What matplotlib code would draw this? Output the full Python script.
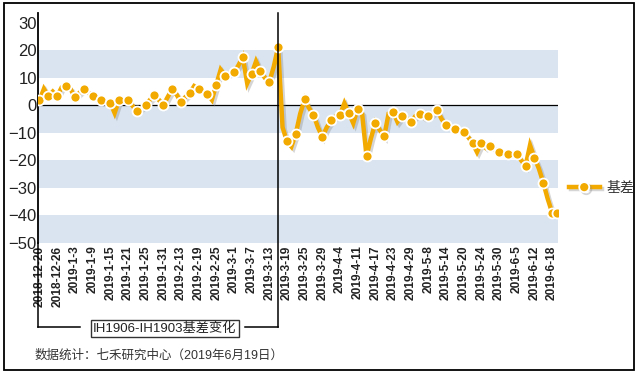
import numpy as np
import matplotlib.pyplot as plt
from matplotlib.lines import Line2D
from matplotlib.patches import Rectangle
import matplotlib.patheffects as pe

plt.rcParams['font.family'] = ['Liberation Sans', 'Noto Sans CJK SC', 'DejaVu Sans']

# daily basis IH1906-IH1903, 2018-12-20 .. 2019-6-19
basis = [1.8, 6, 3.3, 5, 3.3, 6.5, 7, 6, 3, 4.5,
         6, 4.8, 3.3, 2.8, 2, 1.5, 1, -2.8, 2, 2,
         2, 0, -2.2, -1, 0, 2, 3.6, 2, 0, 3,
         5.8, 4, 1.2, 3, 4.4, 7, 6, 5, 4.1, 2,
         7.5, 13, 10.8, 11.5, 12, 14.5, 17.6, 8, 11.5, 16,
         12.4, 10, 8.5, 14, 21.2, -8, -13.1, -15, -10.3, -3,
         2.2, -1, -3.4, -8, -11.5, -8, -5.5, -4, -3.4, 0.8,
         -2.8, -6.5, -1.2, -3, -18.5, -12, -6.3, -9, -11.3, -3,
         -2.4, -6, -3.8, -4.5, -6.2, -4, -3, -4.5, -4, -3,
         -1.8, -5, -7.2, -8, -8.7, -9, -9.6, -11.5, -13.8, -17,
         -13.6, -15.5, -14.9, -16, -16.8, -17.5, -17.8, -17.7, -17.6, -20,
         -22, -14.5, -19, -23, -28.1, -34, -39, -39]

tick_labels = ['2018-12-20', '2018-12-26', '2019-1-3', '2019-1-9', '2019-1-15',
               '2019-1-21', '2019-1-25', '2019-1-31', '2019-2-13', '2019-2-19',
               '2019-2-25', '2019-3-1', '2019-3-7', '2019-3-13', '2019-3-19',
               '2019-3-25', '2019-3-29', '2019-4-4', '2019-4-11', '2019-4-17',
               '2019-4-23', '2019-4-29', '2019-5-8', '2019-5-14', '2019-5-20',
               '2019-5-24', '2019-5-30', '2019-6-5', '2019-6-12', '2019-6-18']
tick_step = 4
expiry_idx = 54  # IH1903 expiry, 2019-3-15

x = np.arange(len(basis))
orange = '#F2A900'
band = '#D9E4F0'

fig = plt.figure(figsize=(6.39, 3.73), dpi=100)
W, H = 639, 373
ax = fig.add_axes([38.3 / W, 1 - 242.8 / H, (558.3 - 38.3) / W, (242.8 - 12.7) / H])

for lo in [10, -10, -30, -50]:
    ax.axhspan(lo, lo + 10, color=band, lw=0, zorder=0)
ax.axhline(0, color='black', lw=0.9, zorder=1)

shadow = [pe.SimpleLineShadow(offset=(1.5, -1.5), shadow_color='#888888', alpha=0.35), pe.Normal()]
ax.plot(x, basis, color=orange, lw=3.2, solid_joinstyle='miter', path_effects=shadow, zorder=3)
mark = list(range(0, len(basis), 2)) + [len(basis) - 1]
ax.plot(x[mark], np.array(basis)[mark], ls='none', marker='o', ms=7.2,
        mfc=orange, mec='white', mew=1.3, zorder=4)

ax.set_xlim(-0.27, 117.4)
ax.set_ylim(-50, 33.7)
ax.set_yticks(range(-50, 31, 10))
ax.set_xticks(x[::tick_step])
ax.set_xticklabels(tick_labels, rotation=90, fontsize=8.6, fontweight='bold', va='top')
ax.tick_params(length=0, pad=2, colors='#222222')
ax.tick_params(axis='y', labelsize=12, pad=1)
for s in ['top', 'right', 'bottom']:
    ax.spines[s].set_visible(False)
ax.spines['left'].set_linewidth(1.3)

# bracket under the axis
x_exp = 38.3 + (expiry_idx + 0.27) / (117.4 + 0.27) * (558.3 - 38.3)
yb = 326.7
for seg in [([38.3, 38.3], [242.8, yb]), ([38.3, 80], [yb, yb]),
            ([245, x_exp], [yb, yb]), ([x_exp, x_exp], [yb, 12.7])]:
    fig.add_artist(Line2D([p / W for p in seg[0]], [1 - p / H for p in seg[1]],
                          color='black', lw=1.1))
fig.add_artist(Rectangle((90.7 / W, 1 - 336.7 / H), (239.3 - 90.7) / W, 16.7 / H,
                         fill=False, ec='#333333', lw=1.0))
fig.text(165 / W, 1 - 328.5 / H, 'IH1906-IH1903基差变化', ha='center', va='center',
         fontsize=9.5, color='#222222')
fig.text(35 / W, 1 - 355.7 / H, '数据统计：七禾研究中心（2019年6月19日）', ha='left',
         va='center', fontsize=9, color='#333333')

# legend
h = Line2D([], [], color=orange, lw=3.2, marker='o', ms=7.2, mfc=orange, mec='white',
           mew=1.3, path_effects=shadow)
fig.legend([h], ['基差'], loc='center left', bbox_to_anchor=(562 / W, 1 - 188 / H),
           frameon=False, handlelength=2.2, fontsize=10, labelcolor='#333333',
           borderpad=0, handletextpad=0.5)

fig.add_artist(Rectangle((4 / W, 1 - 370 / H), 630 / W, 367 / H, fill=False,
                         ec='black', lw=1.3))

fig.savefig('out.png', dpi=100)
